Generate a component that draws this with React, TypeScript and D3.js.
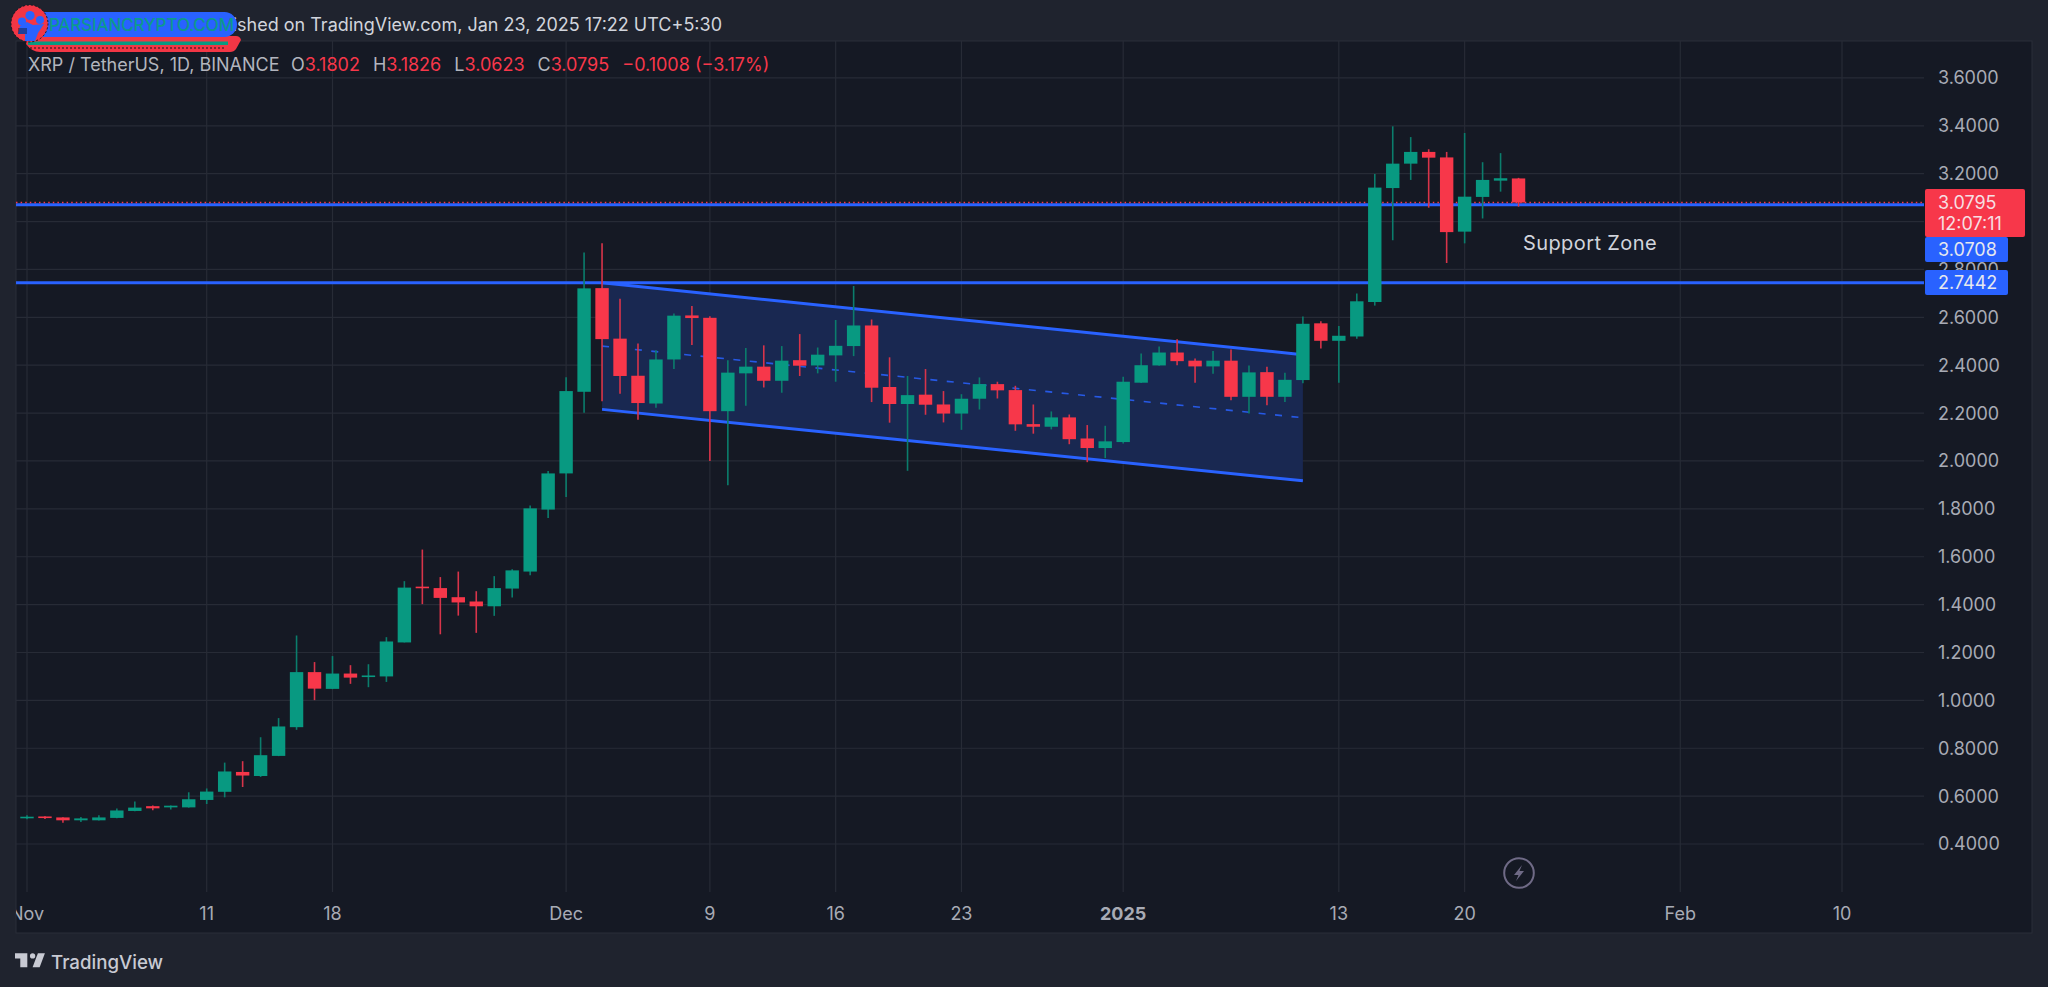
import React from "react";
import * as d3 from "d3";

const W = 2048, H = 987;
const firstDay = new Date(Date.UTC(2024, 10, 1));

const opens = [0.509,0.515,0.511,0.499,0.499,0.509,0.538,0.558,0.553,0.553,0.584,0.618,0.701,0.684,0.768,0.888,1.118,1.048,1.112,1.100,1.100,1.242,1.475,1.469,1.431,1.413,1.393,1.467,1.538,1.797,1.948,2.289,2.722,2.511,2.356,2.240,2.424,2.608,2.598,2.208,2.366,2.394,2.335,2.421,2.399,2.441,2.480,2.566,2.309,2.238,2.277,2.236,2.198,2.260,2.321,2.296,2.154,2.143,2.182,2.094,2.054,2.079,2.327,2.399,2.453,2.419,2.395,2.419,2.268,2.371,2.268,2.338,2.575,2.502,2.520,2.664,3.140,3.242,3.291,3.268,2.958,3.103,3.171,3.1802];
const highs = [0.520,0.516,0.512,0.513,0.520,0.548,0.578,0.561,0.561,0.616,0.632,0.740,0.746,0.846,0.926,1.271,1.160,1.185,1.147,1.151,1.264,1.498,1.630,1.515,1.538,1.456,1.519,1.548,1.814,1.958,2.350,2.871,2.909,2.678,2.491,2.462,2.616,2.647,2.605,2.421,2.472,2.483,2.480,2.530,2.474,2.589,2.731,2.591,2.433,2.355,2.384,2.292,2.279,2.349,2.331,2.314,2.236,2.207,2.194,2.150,2.147,2.352,2.449,2.478,2.508,2.428,2.459,2.466,2.399,2.394,2.369,2.604,2.584,2.564,2.700,3.199,3.398,3.353,3.302,3.291,3.370,3.248,3.286,3.1826];
const lows = [0.503,0.504,0.489,0.492,0.498,0.508,0.537,0.541,0.544,0.552,0.567,0.595,0.638,0.680,0.767,0.877,1.001,1.047,1.069,1.055,1.077,1.242,1.402,1.276,1.354,1.282,1.353,1.430,1.523,1.762,1.850,2.201,2.249,2.281,2.172,2.222,2.384,2.484,2.000,1.899,2.231,2.307,2.285,2.355,2.366,2.331,2.438,2.246,2.160,1.959,2.193,2.161,2.130,2.215,2.261,2.126,2.114,2.132,2.070,1.995,2.012,2.073,2.326,2.398,2.400,2.327,2.364,2.254,2.198,2.233,2.246,2.325,2.470,2.327,2.511,2.649,2.922,3.174,3.058,2.827,2.909,3.013,3.125,3.0623];
const closes = [0.514,0.509,0.499,0.507,0.511,0.540,0.552,0.549,0.560,0.587,0.619,0.703,0.686,0.771,0.891,1.118,1.049,1.112,1.095,1.104,1.246,1.471,1.470,1.428,1.409,1.393,1.469,1.543,1.802,1.948,2.292,2.721,2.509,2.355,2.242,2.424,2.607,2.597,2.208,2.369,2.394,2.335,2.419,2.398,2.444,2.481,2.566,2.306,2.238,2.275,2.235,2.198,2.260,2.321,2.295,2.153,2.143,2.182,2.091,2.054,2.082,2.331,2.400,2.453,2.417,2.395,2.419,2.268,2.370,2.268,2.339,2.573,2.502,2.523,2.667,3.142,3.242,3.291,3.267,2.956,3.104,3.174,3.181,3.0795];

const priceTicks = [0.4,0.6,0.8,1.0,1.2,1.4,1.6,1.8,2.0,2.2,2.4,2.6,2.8,3.0,3.2,3.4,3.6];
const dateTicks = [new Date(Date.UTC(2024,10,1)),new Date(Date.UTC(2024,10,11)),new Date(Date.UTC(2024,10,18)),new Date(Date.UTC(2024,11,1)),new Date(Date.UTC(2024,11,9)),new Date(Date.UTC(2024,11,16)),new Date(Date.UTC(2024,11,23)),new Date(Date.UTC(2025,0,1)),new Date(Date.UTC(2025,0,13)),new Date(Date.UTC(2025,0,20)),new Date(Date.UTC(2025,1,1)),new Date(Date.UTC(2025,1,10))];
const dateLabels = ["Nov","11","18","Dec","9","16","23","2025","13","20","Feb","10"];

const supportLevels = [3.0708, 2.7442];
const lastClose = 3.0795;
const channelDays = [new Date(Date.UTC(2024,11,3)), new Date(Date.UTC(2025,0,11))];
const channelTop = [2.7442, 2.444];
const channelBottom = [2.2155, 1.917];
const channelMid = [2.4799, 2.1805];

const BG = "#1f232e", PANEL = "#151924", GRID = "#272b36";
const UP = "#089981", DOWN = "#f7374a", BLUE = "#2962ff";
const FONT = "Inter, sans-serif";

const plotL = 16, plotR = 1924, plotT = 41, plotB = 892, panelR = 2032, panelB = 933;

const x = d3.scaleUtc().domain([firstDay, dateTicks[11]]).range([27, 1842]);
const y = d3.scaleLinear().domain([0.4, 3.2]).range([844, 173.7]);
const dayOf = (i: number) => d3.utcDay.offset(firstDay, i);

export default function App() {
  const chLine = d3.line<number>().x((_, i) => x(channelDays[i])).y((d) => y(d));
  const chArea = d3.area<number>().x((_, i) => x(channelDays[i])).y0((_, i) => y(channelBottom[i])).y1((d) => y(d));
  return (
    <svg width={W} height={H} viewBox={`0 0 ${W} ${H}`} style={{ position: "absolute", left: 0, top: 0, display: "block", fontFamily: FONT }}>
      <defs>
        <clipPath id="panel"><rect x={plotL} y={plotT} width={panelR - plotL} height={panelB - plotT} /></clipPath>
      </defs>
      <rect width={W} height={H} fill={BG} />
      <rect x={plotL} y={plotT} width={panelR - plotL} height={panelB - plotT} fill={PANEL} stroke="#2a2e39" strokeWidth={1} />

      {/* grid */}
      {priceTicks.map((p) => (
        <line key={p} x1={plotL} x2={plotR} y1={y(p)} y2={y(p)} stroke={GRID} strokeWidth={1.2} />
      ))}
      {dateTicks.map((d, i) => (
        <line key={i} x1={x(d)} x2={x(d)} y1={plotT} y2={plotB} stroke={GRID} strokeWidth={1.2} />
      ))}

      {/* parallel channel */}
      <path d={chArea(channelTop) ?? ""} fill="#192851" />
      <path d={chLine(channelMid) ?? ""} fill="none" stroke={BLUE} strokeWidth={1.6} strokeDasharray="7 9.5" opacity={0.85} />
      <path d={chLine(channelTop) ?? ""} fill="none" stroke={BLUE} strokeWidth={3} />
      <path d={chLine(channelBottom) ?? ""} fill="none" stroke={BLUE} strokeWidth={3} />

      {/* horizontal support lines */}
      {supportLevels.map((s) => (
        <line key={s} x1={plotL} x2={plotR} y1={y(s)} y2={y(s)} stroke={BLUE} strokeWidth={3} />
      ))}
      <line x1={plotL} x2={plotR} y1={y(lastClose)} y2={y(lastClose)} stroke={DOWN} strokeWidth={1.4} strokeDasharray="1.5 3.1" />

      {/* candles */}
      {opens.map((o, i) => {
        const c = closes[i];
        const col = c >= o ? UP : DOWN;
        const cx = x(dayOf(i));
        const top = y(Math.max(o, c));
        const bot = y(Math.min(o, c));
        return (
          <g key={i}>
            <line x1={cx} x2={cx} y1={y(highs[i])} y2={y(lows[i])} stroke={c >= o ? "#0b7d6c" : "#d8344a"} strokeWidth={1.6} />
            <rect x={cx - 6.7} y={top} width={13.4} height={Math.max(bot - top, 1.6)} fill={col} />
          </g>
        );
      })}

      <text x={1523} y={250} fontSize={20} fill="#d1d4dc" letterSpacing={0.4}>Support Zone</text>

      {/* price axis */}
      {priceTicks.filter((p) => p !== 3.0).map((p) => (
        <text key={p} x={1938} y={y(p)} dy="0.36em" fontSize={18} fill="#a8abb5">{d3.format(".4f")(p)}</text>
      ))}
      <rect x={1925} y={189} width={100} height={48} rx={2} fill={DOWN} />
      <text x={1938} y={202.5} dy="0.36em" fontSize={18} fill="#f6dfe2">{lastClose.toFixed(4)}</text>
      <text x={1938} y={223.5} dy="0.36em" fontSize={18} fill="#f6dfe2">12:07:11</text>
      <rect x={1925} y={237} width={83} height={25} rx={2} fill={BLUE} />
      <text x={1938} y={249.5} dy="0.36em" fontSize={18} fill="#e6e8ee">{supportLevels[0].toFixed(4)}</text>
      <rect x={1925} y={270} width={83} height={25} rx={2} fill={BLUE} />
      <text x={1938} y={283} dy="0.36em" fontSize={18} fill="#e6e8ee">{supportLevels[1].toFixed(4)}</text>

      {/* time axis */}
      <g clipPath="url(#panel)">
        {dateTicks.map((d, i) => (
          <text key={i} x={x(d)} y={914} dy="0.36em" textAnchor="middle" fontSize={18} fontWeight={dateLabels[i] === "2025" ? 700 : 400} fill="#a8abb5">{dateLabels[i]}</text>
        ))}
      </g>

      {/* lightning icon */}
      <g transform="translate(1519,873)">
        <circle r={14.8} fill="none" stroke="#6f6a86" strokeWidth={2} />
        <path d="M3 -8 L-5 2 L-0.5 2 L-3 8 L5 -2 L0.5 -2 Z" fill="#6f6a86" />
      </g>

      {/* legend */}
      <text x={28} y={65} dy="0.36em" fontSize={18} fill="#b2b5be">XRP / TetherUS, 1D, BINANCE</text>
      <text x={291} y={65} dy="0.36em" fontSize={18} fill="#b2b5be">
        <tspan>O</tspan><tspan fill={DOWN}>3.1802</tspan>
        <tspan dx={13}>H</tspan><tspan fill={DOWN}>3.1826</tspan>
        <tspan dx={13}>L</tspan><tspan fill={DOWN}>3.0623</tspan>
        <tspan dx={13}>C</tspan><tspan fill={DOWN}>3.0795</tspan>
        <tspan dx={13} fill={DOWN}>−0.1008 (−3.17%)</tspan>
      </text>

      {/* header */}
      <text x={722} y={25} dy="0.36em" textAnchor="end" fontSize={18} fill="#d1d4dc">Published on TradingView.com, Jan 23, 2025 17:22 UTC+5:30</text>
      <g>
        <path d="M28 36 H236 Q240 36 241 40 L236 49 Q234 52 230 52 H40 Q32 52 26 44 Z" fill="#f23645" />
        <rect x={28} y={41.5} width={200} height={3.5} fill={UP} />
        <line x1={30} x2={226} y1={48} y2={48} stroke="#13171f" strokeWidth={1} strokeDasharray="2 2" />
        <rect x={30} y={12} width={207} height={25} rx={12.5} fill={BLUE} />
        <circle cx={29.5} cy={23.5} r={18.5} fill="#f23645" />
        <circle cx={29.5} cy={23.5} r={18.5} fill="none" stroke="#15181f" strokeWidth={1} strokeDasharray="2 2" />
        <circle cx={30} cy={15.5} r={4.6} fill={BLUE} />
        <circle cx={22} cy={21.5} r={4} fill={BLUE} />
        <circle cx={40} cy={20} r={4} fill={BLUE} />
        <path d="M20 26 L27 22 L33 25 L44 24 L38 33 L35 41 L25 41 L25 34 L18 34 Z" fill={BLUE} />
        <rect x={18} y={28} width={9} height={6} fill="#15181f" opacity={0.45} />
        <text x={49} y={25} dy="0.36em" fontSize={17} fill="#0ba08a" stroke="#0b8a77" strokeWidth={0.2} textLength={185} lengthAdjust="spacingAndGlyphs">PARSIANCRYPTO.COM</text>
      </g>

      {/* footer logo */}
      <g transform="translate(15,951.5) scale(0.88)" fill="#c8cad3">
        <path d="M14 2H0v6h6v10h8V2z" />
        <path d="M28 18h-8l6-16h8l-6 16z" />
        <circle cx={20} cy={5} r={3} />
      </g>
      <text x={51} y={962} dy="0.36em" fontSize={18.7} fontWeight={500} fill="#c8cad3">TradingView</text>
    </svg>
  );
}
